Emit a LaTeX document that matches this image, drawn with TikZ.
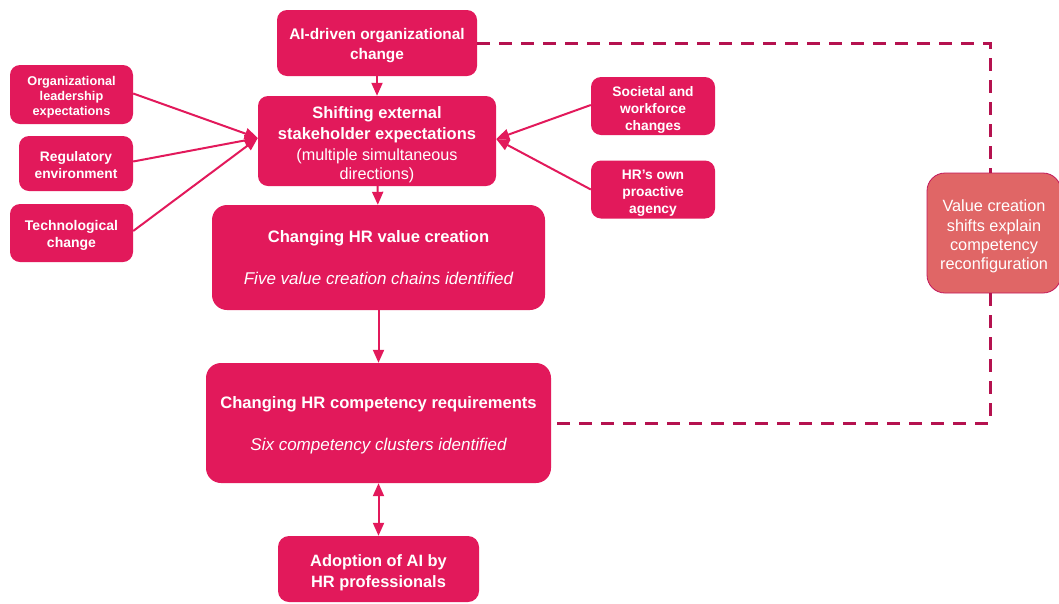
\documentclass[tikz,border=0pt]{standalone}
\usepackage{fontspec}
\setmainfont{Liberation Sans}
\usetikzlibrary{arrows.meta,positioning}
\definecolor{mag}{HTML}{E2195B}
\definecolor{dashcol}{HTML}{B5124F}
\definecolor{salmon}{HTML}{E06666}
\definecolor{salmonline}{HTML}{C2185B}
\newcommand{\sB}{\fontsize{16.5}{21}\selectfont\bfseries}
\newcommand{\sR}{\fontsize{16.2}{21}\selectfont\mdseries}
\newcommand{\hB}{\fontsize{16.6}{20}\selectfont\bfseries}
\newcommand{\hI}{\fontsize{17}{20}\selectfont\mdseries\itshape}
\newcommand{\dn}[1]{\rule{0pt}{#1pt}}
\tikzset{
  box/.style={fill=mag, draw=none, rounded corners=10pt, text=white, align=center, inner sep=0pt},
  bigbox/.style={box, rounded corners=15pt},
  tip/.tip={Triangle[length=13pt,width=11pt]},
  conn/.style={draw=mag, line width=2pt, -tip},
  dconn/.style={draw=mag, line width=2pt, tip-tip},
  dashline/.style={draw=dashcol, line width=3pt, dash pattern=on 13pt off 9pt},
}
\begin{document}
\begin{tikzpicture}[x=1pt,y=-1pt]
\useasboundingbox (0,0) rectangle (1059,603);
% main column
\node[box, minimum width=200pt, minimum height=66pt, font=\fontsize{15.4}{20}\selectfont\bfseries] (ai) at (377,43) {\dn{16.3}AI-driven organizational\\change};
\node[box, minimum width=238pt, minimum height=90pt, font=\fontsize{16.5}{21}\selectfont] (shift) at (377,141) {\sB\dn{19}Shifting external\\\sB stakeholder expectations\\\sR (multiple simultaneous\\[-2pt]\sR directions)};
\node[bigbox, minimum width=333pt, minimum height=105pt, font=\fontsize{16.6}{20}\selectfont] (value) at (378.5,257.5) {\hB Changing HR value creation\\[22pt]\hI Five value creation chains identified};
\node[bigbox, minimum width=345pt, minimum height=120pt, font=\fontsize{16.6}{20}\selectfont] (comp) at (378.5,423) {\hB\dn{16}Changing HR competency requirements\\[22pt]\hI Six competency clusters identified};
\node[box, rounded corners=11pt, minimum width=201pt, minimum height=66pt, font=\fontsize{16.4}{21}\selectfont\bfseries] (adopt) at (378.5,569) {\dn{20}Adoption of AI by\\HR professionals};
% left
\node[box, minimum width=123pt, minimum height=59pt, font=\fontsize{12.7}{15}\selectfont\bfseries] (org) at (71.5,94.5) {\dn{15.3}Organizational\\leadership\\expectations};
\node[box, minimum width=114pt, minimum height=55pt, font=\fontsize{13.8}{17}\selectfont\bfseries] (reg) at (76,163.5) {\dn{14}Regulatory\\environment};
\node[box, minimum width=123pt, minimum height=58pt, font=\fontsize{14}{17}\selectfont\bfseries] (tech) at (71.5,233) {\dn{15.2}Technological\\change};
% right
\node[box, minimum width=124pt, minimum height=58pt, font=\fontsize{13.8}{17}\selectfont\bfseries] (soc) at (653,106) {\dn{17}Societal and\\workforce\\changes};
\node[box, minimum width=124pt, minimum height=58pt, font=\fontsize{13.8}{17}\selectfont\bfseries] (own) at (653,189.5) {\dn{17}HR’s own\\proactive\\agency};
% note
\node[fill=salmon, draw=salmonline, line width=0.8pt, rounded corners=18pt, text=white, align=center, inner sep=0pt, minimum width=134pt, minimum height=120pt, font=\fontsize{16.3}{19.3}\selectfont] (note) at (994,233) {\dn{19}Value creation\\shifts explain\\competency\\reconfiguration};
% coordinates
\coordinate (inL) at ([yshift=3pt]shift.west);
\coordinate (inR) at ([yshift=2pt]shift.east);
\coordinate (dtop) at (990,0);
% connectors
\draw[conn] (ai) -- (shift);
\draw[conn] (shift) -- (value);
\draw[conn] (value) -- (comp);
\draw[dconn] (comp) -- (adopt);
\draw[conn] ([yshift=1pt]org.east) -- (inL);
\draw[conn] ([yshift=2pt]reg.east) -- (inL);
\draw[conn] ([yshift=2pt]tech.east) -- (inL);
\draw[conn] ([yshift=1pt]soc.west) -- (inR);
\draw[conn] (own.west) -- (inR);
% dashed
\draw[dashline] (ai.east) -| (dtop |- note.north);
\draw[dashline] (dtop |- note.south) |- (comp.east);
\end{tikzpicture}
\end{document}
